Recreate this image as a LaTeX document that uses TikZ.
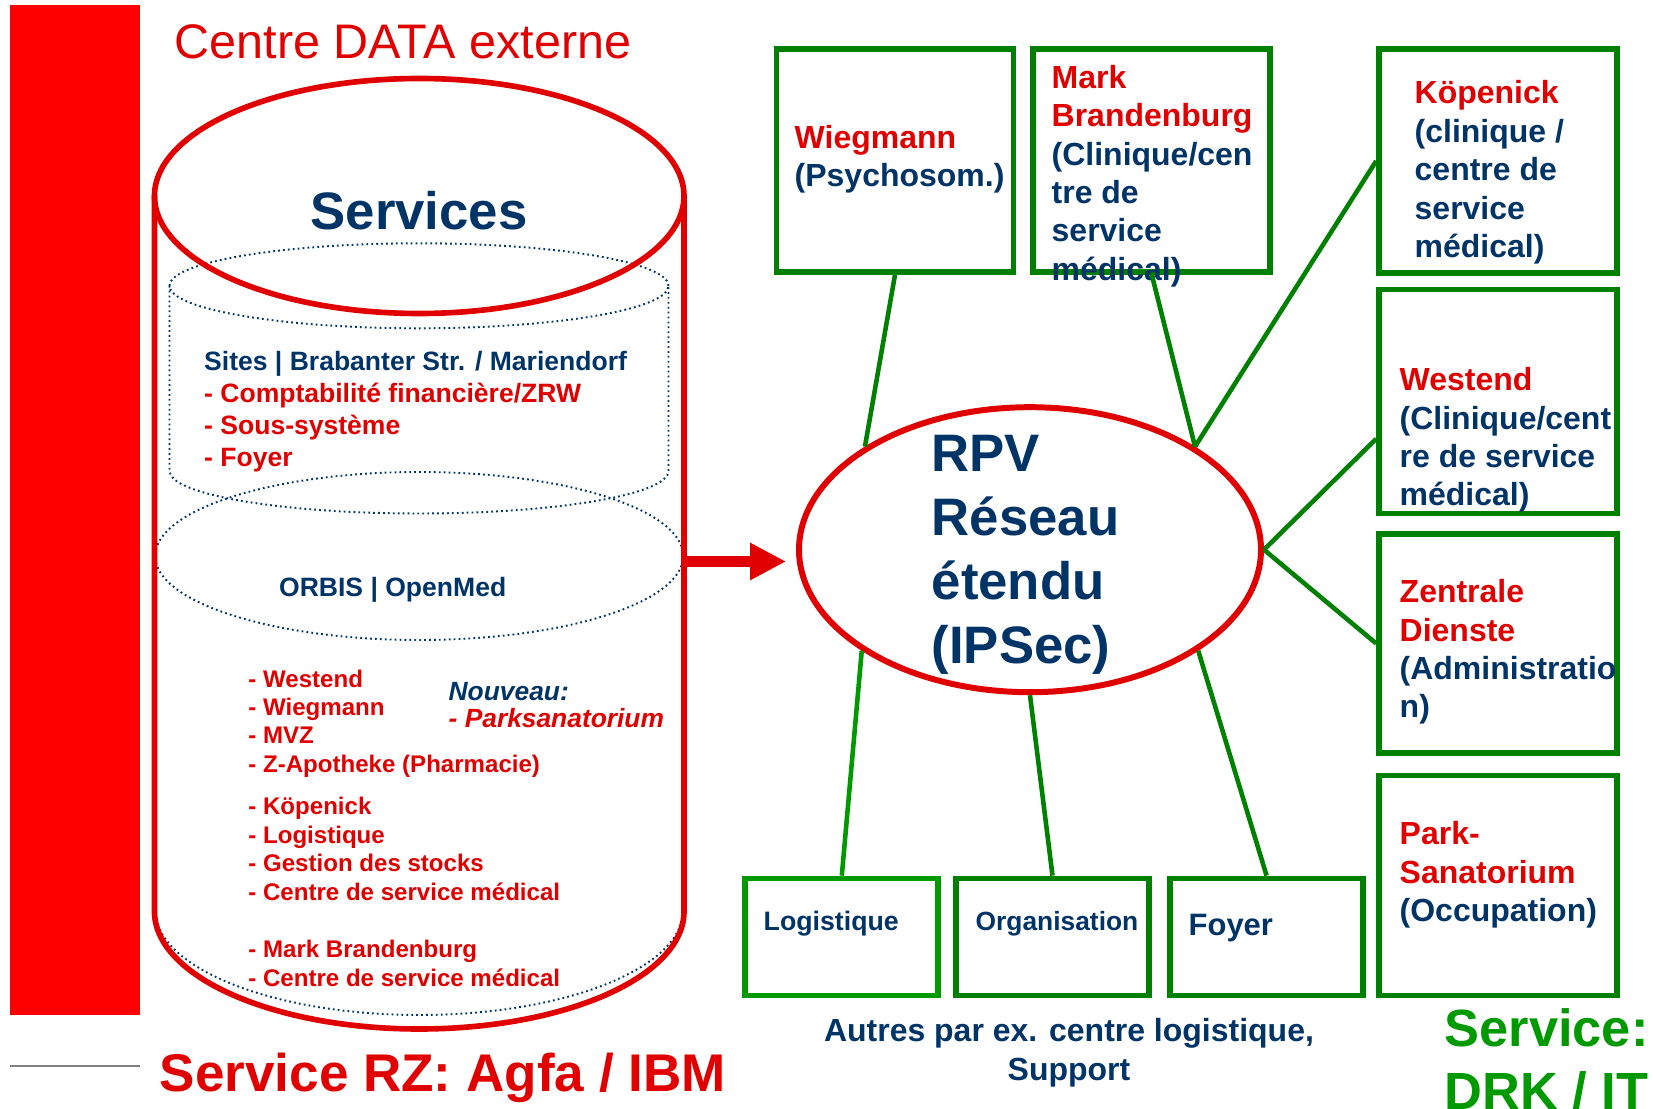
\documentclass[tikz,border=0pt]{standalone}
\usepackage{fontspec}
\setmainfont{Liberation Sans}
\usetikzlibrary{shapes.geometric,arrows.meta}
\definecolor{barred}{HTML}{FF0000}
\definecolor{drkred}{HTML}{E00000}
\definecolor{navy}{HTML}{003366}
\definecolor{boxgreen}{HTML}{008000}
\definecolor{litegreen}{HTML}{009900}
\newcommand{\fz}[2]{\fontsize{#1}{#2}\selectfont}

\begin{document}
\begin{tikzpicture}[
  site/.style={draw=boxgreen, line width=1.6pt, minimum width=2.37cm, minimum height=2.23cm, inner sep=0pt},
  dept/.style={draw=boxgreen, line width=1.6pt, minimum width=1.93cm, minimum height=1.17cm, inner sep=0pt},
  txt/.style={anchor=west, inner sep=0pt, align=left, text=navy, font=\bfseries\fz{9.1}{10.95}},
  link/.style={boxgreen, line width=1.3pt},
  dots/.style={navy, line width=0.55pt, dash pattern=on 0.5pt off 0.9pt},
  cyl/.style={drkred, line width=1.6pt}
]
  \useasboundingbox (0,0) rectangle (16.53,-11.09);
  % red bar and grey rule
  \fill[barred] (0.10,-0.05) rectangle (1.40,-10.15);
  \draw[gray, line width=0.6pt] (0.10,-10.66) -- (1.40,-10.66);
  \node[inner sep=0pt, text=drkred, font=\fz{13.8}{16}] (dctitle) at (4.03,-0.42) {Centre DATA externe};
  % dotted inner cylinders
  \draw[dots] (4.19,-2.858) ellipse (2.495 and 0.425);
  \draw[dots] (1.695,-2.858) -- (1.695,-4.71) arc(180:360:2.495 and 0.425) -- (6.685,-2.858);
  \draw[dots] (4.1925,-5.56) ellipse (2.64 and 0.84);
  \draw[dots] (1.5525,-5.56) -- (1.5525,-9.10) arc(180:360:2.64 and 1.05) -- (6.8325,-5.56);
  % red cylinder
  \draw[cyl] (4.1925,-1.96) ellipse (2.6475 and 1.175);
  \draw[cyl] (1.545,-1.96) -- (1.545,-9.115) arc(180:360:2.6475 and 1.175) -- (6.84,-1.96);
  \coordinate (cylside) at (6.84,-5.615);
  % texts in the cylinder
  \node[inner sep=0pt, text=navy, font=\bfseries\fz{15}{18}] (services) at (4.19,-2.11) {Services};
  \node[txt, font=\bfseries\fz{7.55}{9.1}] (sites) at (2.035,-4.12) {Sites | Brabanter Str. / Mariendorf\\\textcolor{drkred}{- Comptabilité financière/ZRW}\\\textcolor{drkred}{- Sous-système}\\\textcolor{drkred}{- Foyer}};
  \node[inner sep=0pt, text=navy, font=\bfseries\fz{7.55}{9.1}] (orbis) at (3.927,-5.90) {ORBIS | OpenMed};
  \node[txt, text=drkred, font=\bfseries\fz{6.85}{8.1}] (hosts) at (2.477,-8.28) {- Westend\\- Wiegmann\\- MVZ\\- Z-Apotheke (Pharmacie)\\[4.0pt]- Köpenick\\- Logistique\\- Gestion des stocks\\- Centre de service médical\\[8.2pt]- Mark Brandenburg\\- Centre de service médical};
  \node[txt, font=\bfseries\itshape\fz{7.5}{7.8}] (nouveau) at (4.48,-7.05) {Nouveau:\\\textcolor{drkred}{- Parksanatorium}};
  % wide area network
  \node[draw=drkred, line width=1.7pt, ellipse, minimum width=4.62cm, minimum height=2.85cm, inner sep=0pt] (rpv) at (10.30,-5.497) {};
  \node[txt, font=\bfseries\fz{15}{18.27}] (rpvtxt) at (9.31,-5.55) {RPV\\Réseau\\étendu\\(IPSec)};
  \draw[drkred, line width=3pt, -{Triangle[length=0.36cm,width=0.35cm]}, shorten >=0.1cm] (cylside) -- (cylside -| rpv.west);
  % sites
  \node[site] (wieg) at (8.95,-1.605) {};
  \node[site] (mark) at (11.518,-1.605) {};
  \node[site, minimum width=2.38cm, minimum height=2.24cm] (koep) at (14.98,-1.61) {};
  \node[site, minimum width=2.38cm, minimum height=2.24cm] (westend) at (14.98,-4.016) {};
  \node[site, minimum width=2.38cm, minimum height=2.19cm] (zentr) at (14.98,-6.435) {};
  \node[site, minimum width=2.38cm, minimum height=2.20cm] (park) at (14.98,-8.855) {};
  \node[txt] (wiegtxt) at (7.94,-1.59) {\textcolor{drkred}{Wiegmann}\\(Psychosom.)};
  \node[txt] (marktxt) at (10.51,-1.76) {\textcolor{drkred}{Mark}\\\textcolor{drkred}{Brandenburg}\\(Clinique/cen\\tre de\\service\\médical)};
  \node[txt] (koeptxt) at (14.14,-1.726) {\textcolor{drkred}{Köpenick}\\(clinique /\\centre de\\service\\médical)};
  \node[txt] (westtxt) at (13.99,-4.40) {\textcolor{drkred}{Westend}\\(Clinique/cent\\re de service\\médical)};
  \node[txt] (zentrtxt) at (13.99,-6.52) {\textcolor{drkred}{Zentrale}\\\textcolor{drkred}{Dienste}\\(Administratio\\n)};
  \node[txt] (parktxt) at (13.99,-8.75) {\textcolor{drkred}{Park-}\\\textcolor{drkred}{Sanatorium}\\(Occupation)};
  % other departments
  \node[dept, draw=litegreen] (logi) at (8.418,-9.37) {};
  \node[dept] (orga) at (10.525,-9.37) {};
  \node[dept] (foyer) at (12.666,-9.37) {};
  \node[txt, font=\bfseries\fz{7.6}{9}] (logitxt) at (7.63,-9.24) {Logistique};
  \node[txt, font=\bfseries\fz{7.5}{9}] (orgatxt) at (9.75,-9.24) {Organisation};
  \node[txt, font=\bfseries\fz{8.8}{10}] (foyertxt) at (11.88,-9.28) {Foyer};
  \node[inner sep=0pt, align=center, text=navy, font=\bfseries\fz{9.1}{11.1}] (autres) at (10.69,-10.53) {Autres par ex. centre logistique,\\Support};
  % links
  \draw[link] (wieg.south) -- (rpv.148);
  \draw[link] (mark.south) -- (rpv.32);
  \draw[link] (koep.west) -- (rpv.32);
  \draw[link] (westend.197) -- (rpv.east);
  \draw[link] (zentr.west) -- (rpv.east);
  \draw[link, litegreen] (logi.north) -- (rpv.211);
  \draw[link] (orga.north) -- (rpv.south);
  \draw[link] (foyer.north) -- (rpv.329);
  % service labels
  \node[txt, text=drkred, font=\bfseries\fz{15.1}{18}] (rzlabel) at (1.59,-10.78) {Service RZ: Agfa / IBM};
  \node[txt, text=litegreen, font=\bfseries\fz{14.9}{17.9}] (drklabel) at (14.44,-10.60) {Service:\\DRK / IT};
\end{tikzpicture}
\end{document}
